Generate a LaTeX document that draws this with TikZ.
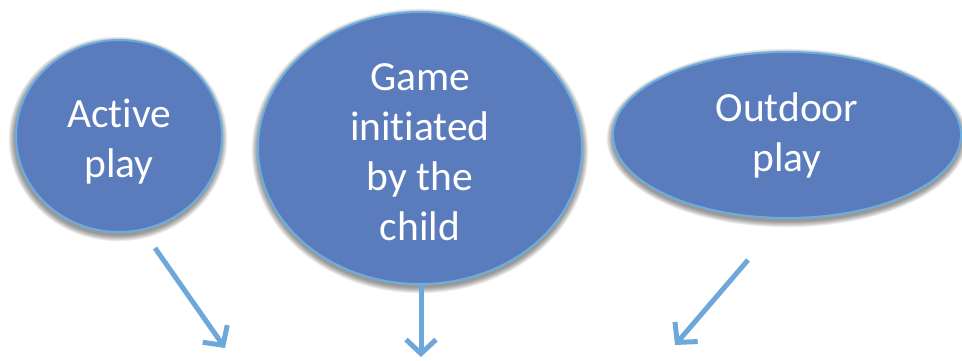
\documentclass[tikz,border=0pt]{standalone}
\usepackage{fontspec}
\setmainfont[Ligatures=NoCommon]{Carlito}
\usetikzlibrary{shapes.geometric,arrows.meta}
\definecolor{blobfill}{HTML}{5A7BBC}
\definecolor{blobline}{HTML}{6AAEDF}
\definecolor{arrowc}{HTML}{6EA7D9}
\newcommand{\topgap}{\rule{0pt}{39pt}}
\tikzset{
  blob/.style={ellipse, fill=blobfill, draw=blobline, line width=2pt, inner sep=0pt,
    text=white, align=center, font=\fontsize{41.5}{50}\selectfont},
  flowarrow/.style={draw=arrowc, line width=5pt,
    -{Straight Barb[length=14pt,width=30pt]}},
}
\newcommand{\softshadow}[4]{%
  \foreach \i in {1,...,9}{
    \fill[black,opacity=0.055] (#1,#2+3) ellipse ({#3+\i*0.7} and {#4+\i*0.7});
  }}
\begin{document}
\begin{tikzpicture}[x=1pt,y=-1pt]
\useasboundingbox (0,0) rectangle (962,361);
\softshadow{118}{136}{103}{96}
\softshadow{420}{148}{162}{136}
\softshadow{787}{135}{174}{83}
\node[blob, minimum width=206pt, minimum height=192pt] (active) at (119,136) {\topgap Active\\play};
\node[blob, minimum width=324pt, minimum height=272pt] (game) at (420,148) {\rule{0pt}{35pt}Game\\initiated\\by the\\child};
\node[blob, minimum width=348pt, minimum height=166pt] (outdoor) at (787,135) {Outdoor\\play};
\coordinate (a1s) at (155,248);
\coordinate (a1e) at (225,348);
\coordinate (a2e) at (421,357);
\coordinate (a3s) at (748,260);
\coordinate (a3e) at (675,345);
\draw[flowarrow] (a1s) -- (a1e);
\draw[flowarrow] (game.south -| a2e) -- (a2e);
\draw[flowarrow] (a3s) -- (a3e);
\end{tikzpicture}
\end{document}
